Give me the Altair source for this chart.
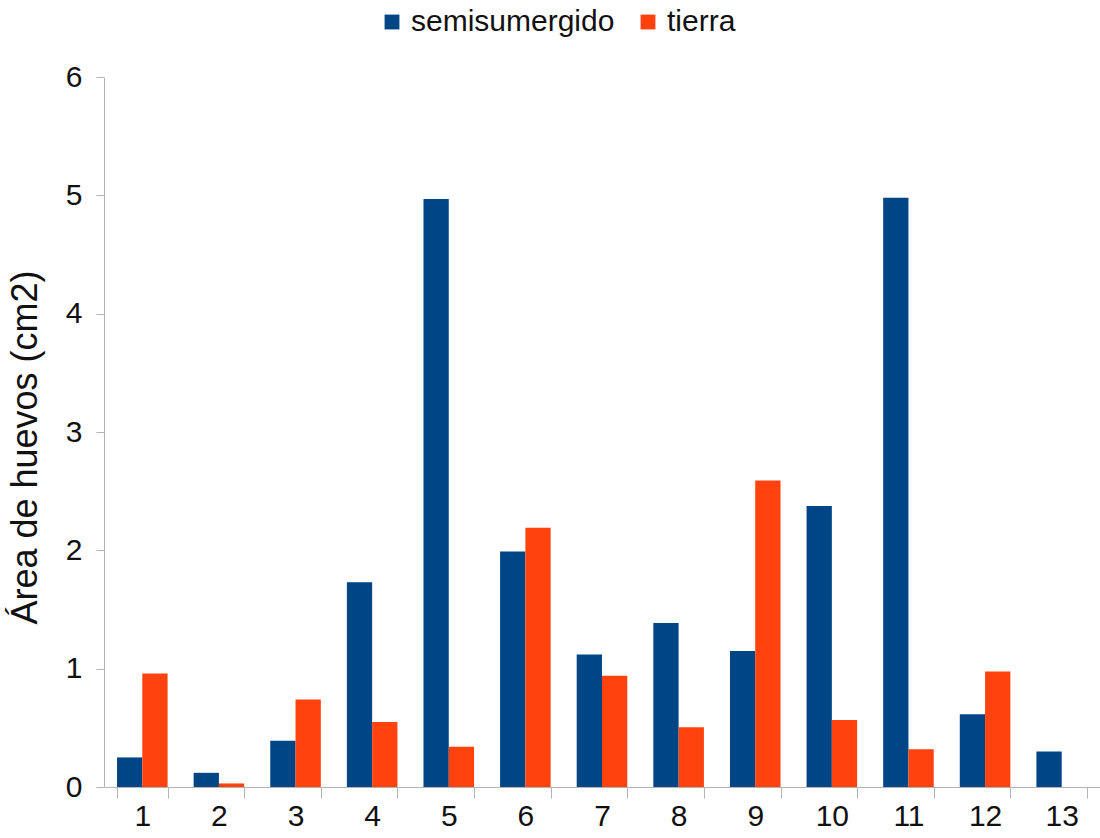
import altair as alt
import pandas as pd

categories = [str(i) for i in range(1, 14)]
semisumergido = [0.25, 0.12, 0.39, 1.73, 4.97, 1.99, 1.12, 1.385, 1.15, 2.375, 4.98, 0.615, 0.30]
tierra = [0.96, 0.03, 0.74, 0.55, 0.34, 2.19, 0.94, 0.505, 2.59, 0.567, 0.32, 0.976, None]
series_names = ["semisumergido", "tierra"]
colors = ["#004586", "#ff420e"]

rows = []
for c, a, b in zip(categories, semisumergido, tierra):
    rows.append({"cat": c, "serie": "semisumergido", "val": a})
    if b is not None:
        rows.append({"cat": c, "serie": "tierra", "val": b})
df = pd.DataFrame(rows)

FONT = "Liberation Sans"

chart = alt.Chart(df).mark_bar().encode(
    x=alt.X("cat:O", sort=categories,
            scale=alt.Scale(paddingInner=0.34, paddingOuter=0.17),
            axis=alt.Axis(title=None, labelAngle=0, tickBand="extent",
                          labelFontSize=30, labelPadding=3, tickSize=11,
                          domainColor="#b3b3b3", tickColor="#b3b3b3",
                          labelColor="#111111", labelFont=FONT)),
    xOffset=alt.XOffset("serie:N", sort=series_names,
                        scale=alt.Scale(paddingInner=0, paddingOuter=0)),
    y=alt.Y("val:Q", scale=alt.Scale(domain=[0, 6]),
            axis=alt.Axis(title="Área de huevos (cm2)", values=[0, 1, 2, 3, 4, 5, 6],
                          grid=False, labelFontSize=30, labelPadding=14, tickSize=8,
                          domainColor="#b3b3b3", tickColor="#b3b3b3",
                          labelColor="#111111", labelFont=FONT,
                          titleFont=FONT, titleFontSize=36, titleFontWeight="normal",
                          titleColor="#111111", titleX=-60, titleY=370)),
    color=alt.Color("serie:N", sort=series_names,
                    scale=alt.Scale(domain=series_names, range=colors),
                    legend=alt.Legend(title=None, orient="none", direction="horizontal",
                                      legendX=273, legendY=-70,
                                      symbolType="square", symbolSize=220,
                                      symbolStrokeWidth=0, labelLimit=0,
                                      labelFontSize=30, labelFont=FONT,
                                      labelColor="#111111", columnPadding=18,
                                      labelOffset=4)),
).properties(
    width=996, height=710,
    padding={"left": 104, "top": 77, "right": 0, "bottom": 51},
    autosize=alt.AutoSizeParams(type="none"),
).configure_view(stroke=None)

chart.save("out.html", embed_options={"renderer": "svg", "actions": False})
